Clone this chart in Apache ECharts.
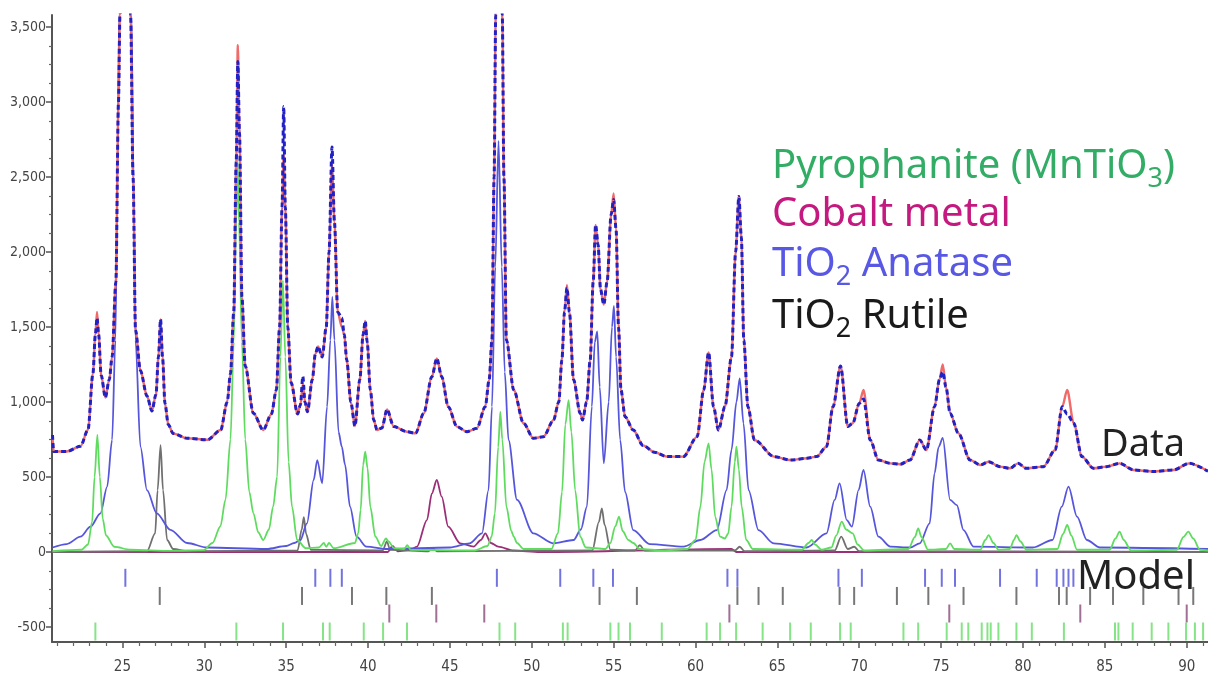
<!DOCTYPE html>
<html>
<head>
<meta charset="utf-8">
<script src="https://cdn.jsdelivr.net/npm/echarts@6.0.0/dist/echarts.min.js"></script>
<style>
  html, body { margin: 0; padding: 0; background: #fff; }
  #chart { width: 1208px; height: 680px; }
</style>
</head>
<body>
<div id="chart"></div>
<script>
// 2theta (deg) / counts
const calcCurve = [
  [20.73, 780], [20.8, 670], [21.6, 670], [22.44, 705], [22.9, 815], [23.2, 1190], [23.35, 1450],
  [23.45, 1600], [23.55, 1450], [23.7, 1180], [23.96, 1030], [24.2, 1150], [24.37, 1300], [24.6, 1800],
  [24.76, 3000], [24.85, 3580], [25.2, 5200], [25.5, 3580], [25.65, 2500], [25.8, 1480], [26.1, 1210],
  [26.5, 1040], [26.8, 940], [27.05, 1050], [27.2, 1300], [27.33, 1550], [27.45, 1300], [27.6, 990],
  [27.8, 850], [28.1, 790], [28.95, 758], [30.2, 748], [31.0, 813], [31.4, 1000], [31.6, 1190],
  [31.8, 1600], [31.95, 2600], [32.05, 3380], [32.15, 2800], [32.3, 1700], [32.5, 1240], [33.0, 925],
  [33.6, 813], [34.1, 920], [34.4, 1080], [34.6, 1500], [34.75, 2300], [34.85, 2650], [34.95, 2300],
  [35.1, 1500], [35.3, 1130], [35.7, 920], [35.87, 980], [36.02, 1120], [36.15, 1000], [36.3, 935],
  [36.6, 1150], [36.78, 1320], [36.95, 1370], [37.2, 1300], [37.45, 1500], [37.62, 2000], [37.8, 2580],
  [37.95, 2200], [38.15, 1600], [38.4, 1500], [38.55, 1450], [38.7, 1280], [38.95, 1000], [39.2, 840],
  [39.5, 1150], [39.7, 1450], [39.83, 1540], [39.95, 1400], [40.14, 1080], [40.35, 880], [40.55, 813],
  [40.85, 827], [41.16, 950], [41.57, 836], [42.38, 802], [42.9, 791], [43.4, 924], [43.9, 1169],
  [44.2, 1291], [44.5, 1169], [44.9, 969], [45.43, 836], [46.04, 802], [46.65, 825], [47.16, 969],
  [47.4, 1150], [47.57, 1413], [47.7, 2500], [47.8, 3580], [48.0, 4300], [48.2, 3580], [48.3, 2500],
  [48.45, 1413], [48.9, 1080], [49.5, 858], [50.1, 758], [50.72, 769], [51.33, 880], [51.65, 1000],
  [51.84, 1280], [52.0, 1600], [52.15, 1780], [52.3, 1600], [52.55, 1150], [52.96, 924], [53.1, 880],
  [53.35, 1000], [53.57, 1280], [53.75, 1800], [53.9, 2180], [54.05, 2050], [54.2, 1750], [54.4, 1650],
  [54.6, 1800], [54.85, 2250], [55.0, 2390], [55.15, 2150], [55.3, 1500], [55.45, 1080], [55.7, 902],
  [56.2, 813], [56.8, 710], [57.5, 665], [58.25, 636], [59.26, 636], [60.1, 769], [60.5, 1080],
  [60.8, 1330], [61.1, 969], [61.4, 813], [61.8, 969], [62.2, 1302], [62.45, 2000], [62.65, 2370],
  [62.8, 2100], [62.95, 1413], [63.2, 969], [63.6, 747], [64.8, 636], [65.8, 613], [66.8, 625],
  [67.4, 636], [68.0, 702], [68.4, 969], [68.86, 1240], [69.3, 836], [69.6, 858], [70.0, 990],
  [70.26, 1080], [70.67, 747], [71.17, 613], [71.9, 591], [72.5, 585], [73.1, 613], [73.7, 747],
  [74.1, 680], [74.6, 969], [74.9, 1150], [75.1, 1250], [75.3, 1100], [75.55, 924], [76.06, 791],
  [76.77, 613], [77.4, 580], [77.9, 602], [78.6, 569], [79.2, 558], [79.7, 591], [80.2, 558],
  [81.25, 569], [81.96, 680], [82.4, 969], [82.7, 1080], [83.1, 858], [83.6, 636], [84.3, 558],
  [85.1, 569], [85.9, 591], [86.75, 547], [87.97, 536], [89.2, 547], [90.15, 591], [91.3, 538]
];
// where the measured data differs from the fit
const obsPeaks = [
  [23.45, 1560], [32.05, 3270], [34.85, 2970], [36.02, 1170], [37.8, 2700], [38.4, 1560],
  [52.15, 1760], [55.0, 2350], [70.26, 1020], [75.1, 1200], [82.7, 920]
];
const pyroCurve = [
  [20.73, 5], [22.5, 15], [22.9, 50], [23.15, 200], [23.3, 500], [23.47, 780], [23.62, 500], [23.8, 220],
  [24.0, 110], [24.5, 35], [25.5, 15], [28.0, 8], [29.95, 12], [30.5, 60], [30.98, 170], [31.3, 350],
  [31.6, 750], [31.8, 1400], [31.95, 2200], [32.03, 2630], [32.12, 2200], [32.3, 1400], [32.5, 750],
  [32.75, 400], [33.0, 258], [33.3, 130], [33.6, 80], [33.95, 150], [34.2, 300], [34.45, 500],
  [34.65, 1300], [34.8, 1810], [34.95, 1300], [35.15, 600], [35.36, 300], [35.67, 80], [36.2, 25],
  [37.0, 30], [37.3, 60], [37.45, 35], [37.62, 60], [37.9, 25], [39.2, 60], [39.4, 124], [39.55, 280],
  [39.7, 580], [39.83, 669], [39.97, 560], [40.14, 300], [40.45, 102], [40.8, 40], [41.1, 90],
  [41.25, 70], [41.6, 25], [42.2, 20], [42.4, 45], [42.6, 15], [46.5, 10], [47.3, 40], [47.55, 102],
  [47.75, 258], [47.95, 700], [48.08, 935], [48.2, 750], [48.45, 302], [48.75, 140], [48.9, 102],
  [49.1, 60], [49.5, 20], [51.2, 20], [51.6, 124], [51.85, 400], [52.05, 850], [52.25, 1013],
  [52.42, 800], [52.65, 413], [52.96, 102], [53.3, 30], [54.5, 20], [54.8, 60], [55.1, 170],
  [55.33, 236], [55.55, 140], [55.9, 80], [56.2, 60], [56.6, 20], [58.0, 10], [59.5, 20], [60.0, 80],
  [60.3, 302], [60.55, 600], [60.8, 724], [60.98, 550], [61.2, 236], [61.5, 102], [61.8, 90],
  [62.0, 124], [62.2, 302], [62.4, 600], [62.5, 702], [62.65, 550], [62.82, 302], [63.1, 80],
  [63.5, 20], [66.5, 15], [66.9, 60], [67.1, 80], [67.3, 50], [67.7, 15], [68.3, 30], [68.6, 110],
  [68.93, 202], [69.2, 150], [69.6, 124], [69.9, 50], [70.3, 10], [73.0, 20], [73.4, 100],
  [73.6, 158], [73.8, 100], [74.2, 15], [75.3, 20], [75.55, 58], [75.8, 20], [77.4, 15], [77.7, 80],
  [77.9, 113], [78.2, 60], [78.5, 15], [79.2, 20], [79.45, 80], [79.6, 113], [79.85, 70], [80.2, 15],
  [82.1, 20], [82.45, 120], [82.7, 180], [82.95, 110], [83.3, 15], [85.3, 15], [85.65, 90],
  [85.9, 136], [86.15, 80], [86.6, 10], [89.4, 15], [89.8, 100], [90.1, 136], [90.4, 90], [90.8, 15],
  [91.3, 10]
];
const anataseCurve = [
  [20.73, 30], [21.6, 53], [22.44, 102], [23.05, 169], [23.66, 258], [24.07, 436], [24.37, 747],
  [24.57, 1413], [24.7, 2500], [24.8, 3580], [25.2, 5000], [25.55, 3580], [25.68, 2500], [25.8, 1413],
  [26.1, 702], [26.5, 413], [27.1, 258], [27.93, 148], [28.95, 60], [30.17, 30], [33.8, 20], [35.0, 40],
  [35.5, 60], [35.87, 80], [36.27, 191], [36.68, 480], [36.9, 613], [37.2, 458], [37.5, 969],
  [37.7, 1413], [37.82, 1700], [37.95, 1413], [38.2, 800], [38.4, 702], [38.6, 580], [38.9, 302],
  [39.3, 102], [39.9, 36], [41.2, 20], [45.0, 30], [46.2, 58], [46.96, 124], [47.36, 413], [47.57, 969],
  [47.77, 1900], [47.97, 2740], [48.17, 1900], [48.35, 1200], [48.58, 747], [49.1, 347], [50.1, 124],
  [51.3, 58], [52.56, 80], [53.0, 150], [53.37, 302], [53.67, 969], [53.85, 1400], [54.0, 1470],
  [54.15, 1100], [54.4, 591], [54.7, 1000], [54.9, 1500], [55.02, 1640], [55.15, 1300], [55.4, 747],
  [55.7, 400], [56.2, 146], [57.2, 53], [59.27, 36], [60.3, 80], [61.3, 146], [61.9, 413], [62.2, 680],
  [62.5, 1000], [62.7, 1158], [62.93, 858], [63.24, 413], [63.85, 146], [64.77, 58], [66.8, 30],
  [68.0, 124], [68.5, 347], [68.8, 458], [69.24, 213], [69.55, 169], [69.96, 413], [70.26, 547],
  [70.67, 302], [71.17, 102], [71.9, 36], [73.1, 30], [73.7, 58], [74.3, 191], [74.6, 524],
  [74.85, 700], [75.1, 760], [75.55, 347], [75.96, 313], [76.37, 146], [76.98, 36], [80.6, 30],
  [81.8, 80], [82.37, 302], [82.78, 436], [83.3, 236], [83.9, 80], [84.7, 30], [91.3, 20]
];
const rutileCurve = [
  [20.73, 0], [26.5, 5], [27.0, 124], [27.15, 413], [27.33, 713], [27.48, 413], [27.73, 80], [28.1, 20],
  [29.0, 5], [35.7, 10], [35.95, 150], [36.08, 233], [36.22, 120], [36.5, 15], [40.9, 10], [41.15, 70],
  [41.35, 15], [43.7, 5], [43.95, 25], [44.2, 5], [53.7, 10], [54.1, 200], [54.28, 291], [54.45, 180],
  [54.8, 15], [56.3, 10], [56.6, 45], [56.9, 10], [62.4, 10], [62.7, 35], [63.0, 5], [68.5, 10],
  [68.9, 102], [69.3, 20], [69.7, 35], [70.0, 5], [91.3, 0]
];
const cobaltCurve = [
  [20.73, 0], [41.2, 0], [41.5, 40], [41.8, 5], [42.6, 15], [42.99, 36], [43.6, 213], [43.9, 391],
  [44.2, 480], [44.5, 369], [44.9, 169], [45.63, 58], [46.45, 36], [46.9, 80], [47.16, 124], [47.5, 60],
  [47.95, 36], [48.9, 10], [50.5, 0], [62.2, 20], [62.5, 0], [91.3, 0]
];

// reflection positions for the tick rows under the pattern
const anataseTicks = [25.18, 36.78, 37.7, 38.4, 47.87, 51.74, 53.76, 54.96, 61.95, 62.56, 68.73, 70.16,
  74.02, 75.04, 75.85, 78.6, 80.84, 82.06, 82.47, 82.78, 83.08];
const rutileTicks = [27.28, 35.97, 39.02, 41.12, 43.9, 54.14, 56.42, 62.56, 63.85, 65.33, 68.8, 69.69,
  72.3, 74.22, 76.37, 79.6, 82.2, 82.67, 84.1, 85.5, 87.35, 89.5, 90.4];
const cobaltTicks = [41.3, 44.17, 47.1, 62.07, 75.5, 83.5, 90.0];
const pyroTicks = [23.35, 31.96, 34.81, 37.25, 37.66, 39.74, 40.92, 42.38, 48.03, 48.99, 51.9, 52.19,
  54.8, 55.3, 56.0, 57.94, 60.68, 61.5, 62.48, 64.1, 65.78, 67.04, 68.83, 69.48, 72.7, 73.6, 75.34,
  76.26, 76.66, 77.48, 77.83, 78.03, 78.5, 79.6, 80.54, 82.5, 85.62, 85.83, 86.7, 87.86, 88.88, 89.96,
  90.5, 91.0];
const tickRowLevel = [-172, -293, -410, -530];   // anatase, rutile, cobalt, pyrophanite

const xTickLabels = [25, 30, 35, 40, 45, 50, 55, 60, 65, 70, 75, 80, 85, 90];
const yTickLabels = [-500, 0, 500, 1000, 1500, 2000, 2500, 3000, 3500];

const X_MIN = 20.7, X_MAX = 91.3, Y_MIN = -600, Y_MAX = 3580;

let xMinor = [], yMinor = [];
for (let v = 21; v <= 91; v++) if (v % 5 !== 0) xMinor.push(v);
for (let v = -500; v <= 3500; v += 125) if (v % 500 !== 0) yMinor.push(v);

const obsCurve = calcCurve.map(p => obsPeaks.find(q => q[0] === p[0]) || p);

const axisFont = "'Liberation Sans Narrow','DejaVu Sans Condensed',sans-serif";
const textFont = "'Noto Sans','DejaVu Sans',sans-serif";

function lineSeries(name, data, color, width, z, type) {
  return {
    name: name, type: 'line', data: data, z: z,
    showSymbol: false, symbol: 'none', smooth: 0.3, smoothMonotone: 'x',
    lineStyle: { color: color, width: width, type: type || 'solid' },
    animation: false
  };
}
function tickSeries(name, xs, level, color) {
  return {
    name: name, type: 'scatter', z: 3, animation: false,
    symbol: 'rect', symbolSize: [2, 18],
    itemStyle: { color: color },
    data: xs.map(x => [x, level])
  };
}
function label(text, x, y, rich) {
  return { type: 'text', x: x, y: y, z: 100, style: { text: text, rich: rich, verticalAlign: 'middle', align: 'left' } };
}
function richFor(color, size) {
  return {
    a: { fill: color, fontSize: size, fontFamily: textFont },
    s: { fill: color, fontSize: 27, fontFamily: textFont, padding: [24, 0, 0, 0] }
  };
}

let myChart = echarts.init(document.getElementById('chart'));
myChart.setOption({
  backgroundColor: '#fff',
  animation: false,
  grid: { left: 52, right: 0, top: 15, bottom: 38, show: false },
  xAxis: [{
    type: 'value', min: X_MIN, max: X_MAX,
    axisLine: { show: true, onZero: false, lineStyle: { color: '#555', width: 2 } },
    axisTick: { customValues: xTickLabels, length: 6, lineStyle: { color: '#555', width: 1.5 } },
    axisLabel: { customValues: xTickLabels, color: '#444', fontSize: 15, fontFamily: axisFont, margin: 18 },
    splitLine: { show: false }
  }, {
    type: 'value', min: X_MIN, max: X_MAX, position: 'bottom',
    axisLine: { show: false, onZero: false },
    axisTick: { customValues: xMinor, length: 4, lineStyle: { color: '#666', width: 1.2 } },
    axisLabel: { show: false }, splitLine: { show: false }
  }],
  yAxis: [{
    type: 'value', min: Y_MIN, max: Y_MAX,
    axisLine: { show: true, onZero: false, lineStyle: { color: '#555', width: 2 } },
    axisTick: { customValues: yTickLabels, length: 6, lineStyle: { color: '#555', width: 1.5 } },
    axisLabel: {
      customValues: yTickLabels, color: '#444', fontSize: 14, fontFamily: axisFont, margin: 6,
      formatter: v => v.toLocaleString('en-US')
    },
    splitLine: { show: false }
  }, {
    type: 'value', min: Y_MIN, max: Y_MAX, position: 'left',
    axisLine: { show: false, onZero: false },
    axisTick: { customValues: yMinor, length: 3, lineStyle: { color: '#666', width: 1.2 } },
    axisLabel: { show: false }, splitLine: { show: false }
  }],
  series: [
    lineSeries('Cobalt', cobaltCurve, '#9a2f78', 1.8, 2),
    lineSeries('Rutile', rutileCurve, '#707070', 1.8, 3),
    lineSeries('Anatase', anataseCurve, '#5656dc', 1.8, 4),
    lineSeries('Pyrophanite', pyroCurve, '#5fdc5f', 1.8, 5),
    lineSeries('Calc', calcCurve, '#f06a6a', 2.4, 6),
    lineSeries('Data', obsCurve, '#2222c4', 3, 7, [5, 3]),
    tickSeries('Anatase ticks', anataseTicks, tickRowLevel[0], '#5050d8'),
    tickSeries('Rutile ticks', rutileTicks, tickRowLevel[1], '#555'),
    tickSeries('Cobalt ticks', cobaltTicks, tickRowLevel[2], '#8a4a7a'),
    tickSeries('Pyrophanite ticks', pyroTicks, tickRowLevel[3], '#66dd66')
  ],
  graphic: [
    label('{a|Pyrophanite (MnTiO}{s|3}{a|)}', 772, 167, richFor('#33ad66', 40)),
    label('{a|Cobalt metal}', 772, 215, richFor('#c4197f', 40)),
    label('{a|TiO}{s|2}{a| Anatase}', 772, 265, richFor('#5858e4', 40)),
    label('{a|TiO}{s|2}{a| Rutile}', 772, 317, richFor('#1a1a1a', 40)),
    label('{a|Data}', 1101, 445, richFor('#222', 38)),
    label('{a|Model}', 1077, 578, richFor('#222', 40))
  ]
});
</script>
</body>
</html>
